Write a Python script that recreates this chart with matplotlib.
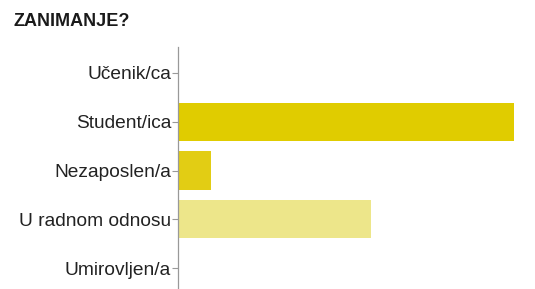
import matplotlib
matplotlib.use("Agg")
import matplotlib.pyplot as plt

categories = ["Učenik/ca", "Student/ica", "Nezaposlen/a", "U radnom odnosu", "Umirovljen/a"]
values = [0, 61, 6, 35, 0]
colors = ["#e0cc00", "#e0cc00", "#e2cd14", "#ede68a", "#e0cc00"]

plt.rcParams["font.family"] = ["Liberation Sans", "DejaVu Sans"]

fig = plt.figure(figsize=(5.35, 2.89), dpi=100)
ax = fig.add_axes([178 / 535, 0, 357 / 535, 242 / 289])

ypos = list(range(len(categories)))
ax.barh(ypos, values, height=0.78, color=colors, edgecolor="none")

ax.set_ylim(4.43, -0.533)
ax.set_xlim(0, 64.8)
ax.set_yticks(ypos)
ax.set_yticklabels(categories, fontsize=13.75, color="#222222")
ax.set_xticks([])
ax.tick_params(axis="y", length=4, width=0.8, color="#999999", pad=1)

for side in ["top", "right", "bottom"]:
    ax.spines[side].set_visible(False)
ax.spines["left"].set_color("#999999")
ax.spines["left"].set_linewidth(0.9)

fig.text(13 / 535, 1 - 22 / 289, "ZANIMANJE?", fontsize=13, fontweight="bold",
         color="#1a1a1a", va="center", ha="left")

fig.savefig("out.png", dpi=100)
